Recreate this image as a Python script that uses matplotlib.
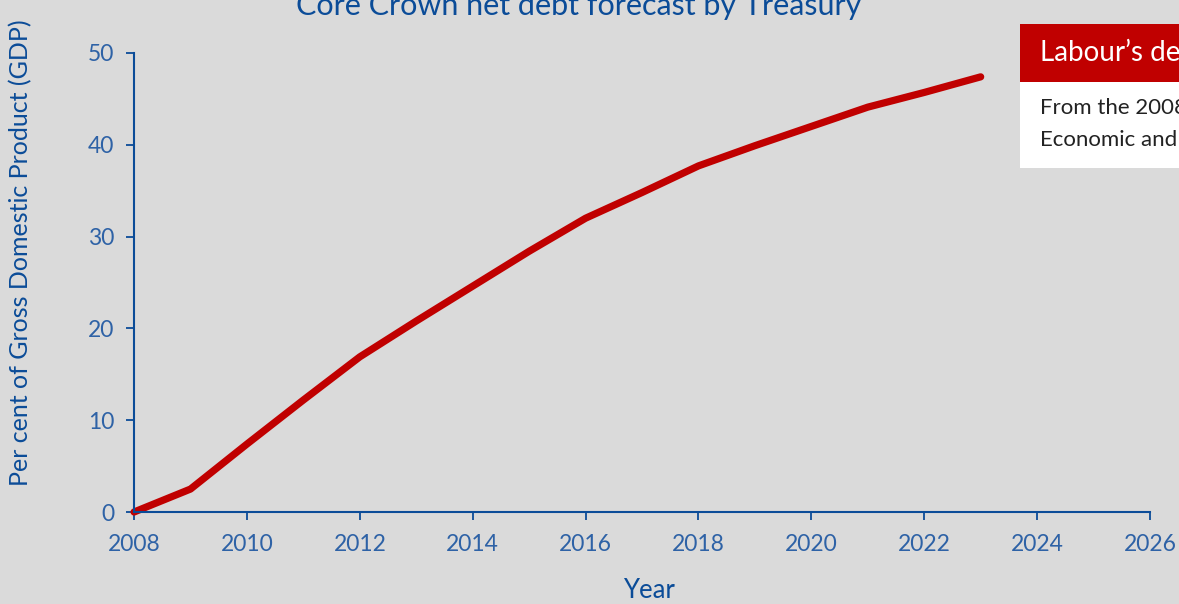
import matplotlib
matplotlib.use("Agg")
import matplotlib.pyplot as plt
from matplotlib.patches import Rectangle

# Core Crown net debt, per cent of GDP
years = [2008, 2009, 2010, 2011, 2012, 2013, 2014, 2015, 2016, 2017, 2018, 2019, 2020, 2021, 2022, 2023]
debt = [0.0, 2.5, 7.4, 12.2, 16.9, 20.8, 24.6, 28.4, 32.0, 34.8, 37.7, 39.9, 42.0, 44.1, 45.7, 47.4]

x_ticks = list(range(2008, 2027, 2))
y_ticks = [0, 10, 20, 30, 40, 50]

BLUE = "#0B4C98"
TICK_BLUE = "#2E62A6"
RED = "#C00000"
BG = "#DADADA"

plt.rcParams["font.family"] = ["Lato", "DejaVu Sans"]

fig = plt.figure(figsize=(11.79, 6.04), dpi=100, facecolor=BG)
ax = fig.add_axes([0.1137, 0.1523, 0.8617, 0.76])
ax.set_facecolor(BG)

ax.plot(years, debt, color=RED, linewidth=5.2, solid_capstyle="round", solid_joinstyle="round", clip_on=False)

ax.set_xlim(2008, 2026)
ax.set_ylim(0, 50)
ax.set_xticks(x_ticks)
ax.set_yticks(y_ticks)
for side in ["top", "right"]:
    ax.spines[side].set_visible(False)
for side in ["left", "bottom"]:
    ax.spines[side].set_color(BLUE)
    ax.spines[side].set_linewidth(1.5)
ax.tick_params(colors=BLUE, labelcolor=TICK_BLUE, length=6, width=1.3, labelsize=16.5, direction="out")
ax.tick_params(axis="x", pad=10)
ax.tick_params(axis="y", pad=8)

ax.set_xlabel("Year", color=BLUE, fontsize=18.5)
ax.xaxis.set_label_coords(0.507, -0.143)
ax.set_ylabel("Per cent of Gross Domestic Product (GDP)", color=BLUE, fontsize=18)
ax.yaxis.set_label_coords(-0.1, 0.566)

fig.text(0.491, 0.99, "Core Crown net debt forecast by Treasury", color=BLUE, fontsize=22,
         ha="center", va="center")

# side panel, cut off by the right edge
fig.patches.append(Rectangle((1020 / 1179, 1 - 168 / 604), 0.2, (168 - 82) / 604,
                             transform=fig.transFigure, facecolor="white", edgecolor="none"))
fig.patches.append(Rectangle((1020 / 1179, 1 - 82 / 604), 0.2, (82 - 24) / 604,
                             transform=fig.transFigure, facecolor=RED, edgecolor="none"))
fig.text(1040 / 1179, 1 - 52 / 604, "Labour’s debt legacy", color="white", fontsize=20, va="center")
fig.text(1040 / 1179, 1 - 108 / 604, "From the 2008 Pre-election", color="#222222", fontsize=16, va="center")
fig.text(1040 / 1179, 1 - 140 / 604, "Economic and Fiscal Update", color="#222222", fontsize=16, va="center")

fig.savefig("out.png", dpi=100, facecolor=BG)
